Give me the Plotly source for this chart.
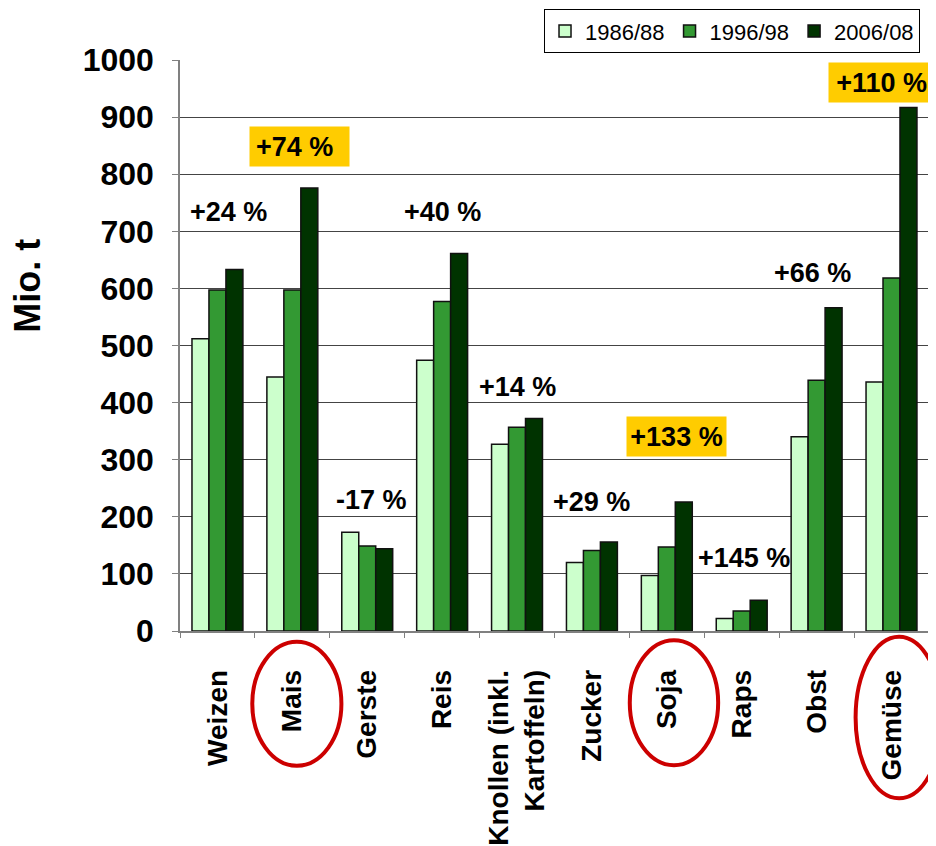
import plotly.graph_objects as go

# Erzeugung in Mio. t
kulturen = ["Weizen", "Mais", "Gerste", "Reis", "Knollen (inkl.<br>Kartoffeln)",
            "Zucker", "Soja", "Raps", "Obst", "Gemüse"]
perioden = ["1986/88", "1996/98", "2006/08"]
werte_1986 = [512, 445, 173, 474, 327, 120, 97, 22, 340, 436]
werte_1996 = [597, 597, 149, 577, 357, 141, 147, 35, 439, 618]
werte_2006 = [633, 776, 144, 661, 372, 156, 226, 54, 566, 917]
veraenderung = ["+24 %", "+74 %", "-17 %", "+40 %", "+14 %",
                "+29 %", "+133 %", "+145 %", "+66 %", "+110 %"]
hervorgehoben = ["Mais", "Soja", "Gemüse"]

farben = ["#ccffcc", "#339933", "#003300"]
FONT = "Liberation Sans, Arial, sans-serif"

fig = go.Figure()
for name, werte, farbe in zip(perioden, [werte_1986, werte_1996, werte_2006], farben):
    fig.add_trace(go.Bar(
        x=kulturen, y=werte, name=name,
        marker=dict(color=farbe, line=dict(color="#111111", width=1.5)),
    ))

# label placement: (y in data units, x shift in px)
label_pos = [(734, 11), (849, 7), (229, 4), (734, 0), (428, 0),
             (226, 0), (341, 10), (128, 2), (627, -4), (960, -13)]
# yellow box styling: (align, inner padding)
box_style = {"Mais": ("left", 6), "Soja": ("center", 3), "Gemüse": ("right", 1)}
annotations = []
for kat, txt, (ly, dx) in zip(kulturen, veraenderung, label_pos):
    ann = dict(x=kat, y=ly, xref="x", yref="y", text=txt, showarrow=False,
               xshift=dx, font=dict(family=FONT, size=27, color="black", weight="bold"))
    kurz = kat.split("<br>")[0]
    if kurz in hervorgehoben:
        align, pad = box_style[kurz]
        ann.update(bgcolor="#ffcc00", width=99 - 2 * pad, height=39 - 2 * pad,
                   borderpad=pad, align=align)
    annotations.append(ann)

annotations.append(dict(
    x=-0.204, y=0.605, xref="paper", yref="paper", xanchor="center", yanchor="middle",
    text="Mio. t", textangle=-90, showarrow=False,
    font=dict(family=FONT, size=36, color="black", weight="bold"),
))

# red ellipses around highlighted category labels
ellipse_style = {"Mais": (0.006, 0.0595, -0.019, -0.236),
                 "Soja": (0.0095, 0.059, -0.016, -0.235),
                 "Gemüse": (0.01, 0.058, -0.010, -0.293)}
shapes = []
for name, (dx, hw, y0, y1) in ellipse_style.items():
    i = kulturen.index(name)
    cx = (i + 0.5) / len(kulturen) + dx
    shapes.append(dict(type="circle", xref="x domain", yref="y domain",
                       x0=cx - hw, x1=cx + hw, y0=y1, y1=y0,
                       line=dict(color="#cc0000", width=4)))
shapes.append(dict(type="line", xref="x domain", yref="y domain",
                   x0=1, x1=1, y0=0, y1=1, line=dict(color="#c0c0c0", width=1.5)))

# page body adds an 8px offset, so the figure is 8px smaller
fig.update_layout(
    width=928, height=838,
    margin=dict(l=172, r=7, t=52, b=215, autoexpand=False),
    barmode="group", bargap=0.32, bargroupgap=0,
    plot_bgcolor="white", paper_bgcolor="white",
    font=dict(family=FONT, color="black"),
    legend=dict(orientation="h", x=0.988, xanchor="right", y=1.089, yanchor="top",
                bordercolor="black", borderwidth=1, bgcolor="white",
                font=dict(family=FONT, size=22), itemwidth=30,
                traceorder="normal"),
    annotations=annotations,
    shapes=shapes,
)
fig.update_yaxes(
    range=[0, 1000], dtick=100, showgrid=True, gridcolor="#444444", gridwidth=1,
    showline=True, linecolor="#808080", linewidth=1.5,
    ticks="outside", ticklen=6, tickcolor="#808080",
    ticklabelstandoff=12,
    tickfont=dict(family=FONT, size=32, color="black", weight="bold"),
    zeroline=False,
)
fig.update_xaxes(
    tickangle=-90, showline=True, linecolor="#808080", linewidth=1.5,
    ticks="outside", tickson="boundaries", ticklen=5, tickcolor="#808080",
    ticklabelstandoff=26,
    tickfont=dict(family=FONT, size=28, color="black", weight="bold"),
)

fig.write_html("out.html")
